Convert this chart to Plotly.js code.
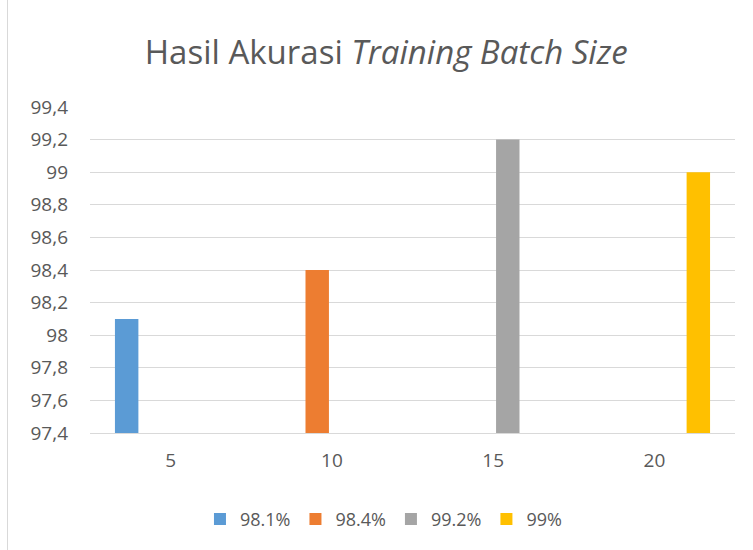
<!DOCTYPE html>
<html>
<head>
<meta charset="utf-8">
<script src="https://cdn.plot.ly/plotly-3.0.1.min.js"></script>
<style>
  html, body { margin: 0; padding: 0; background: #fff; }
  #wrap { position: relative; width: 753px; height: 550px; }
  #chart { width: 753px; height: 550px; }
  #edge { position: absolute; left: 7px; top: 0; width: 1px; height: 550px; background: #d9d9d9; }
</style>
</head>
<body>
<div id="wrap">
  <div id="chart"></div>
  <div id="edge"></div>
</div>
<script>
const categories = ['5', '10', '15', '20'];
const seriesNames = ['98.1%', '98.4%', '99.2%', '99%'];
const seriesValues = [98.1, 98.4, 99.2, 99.0];
const seriesColors = ['#5b9bd5', '#ed7d31', '#a5a5a5', '#ffc000'];

const traces = seriesNames.map((name, i) => ({
  type: 'bar',
  name: name,
  x: categories,
  y: categories.map((c, j) => (j === i ? seriesValues[i] : null)),
  marker: { color: seriesColors[i] },
  hoverinfo: 'x+y+name'
}));

const font = "'Open Sans', 'Liberation Sans', sans-serif";

const layout = {
  width: 753,
  height: 550,
  margin: { l: 90, r: 18, t: 107, b: 117 },
  paper_bgcolor: '#ffffff',
  plot_bgcolor: '#ffffff',
  separators: ',.',
  font: { family: font, color: '#595959', size: 19 },
  title: {
    text: 'Hasil Akurasi <i>Training Batch Size</i>',
    font: { family: font, size: 33, color: '#595959' },
    xref: 'container', x: 0.513, xanchor: 'center',
    yref: 'container', y: 0.905, yanchor: 'middle'
  },
  barmode: 'group',
  bargap: 0.273,
  bargroupgap: 0.2,
  xaxis: {
    type: 'category',
    showgrid: false,
    showline: true,
    linecolor: '#d9d9d9',
    linewidth: 1,
    ticks: '',
    ticklabelstandoff: 10,
    tickfont: { family: font, size: 19, color: '#595959' },
    fixedrange: true
  },
  yaxis: {
    range: [97.4, 99.4],
    dtick: 0.2,
    tick0: 97.4,
    showgrid: true,
    gridcolor: '#d9d9d9',
    gridwidth: 1,
    zeroline: false,
    showline: false,
    ticks: '',
    ticklabelstandoff: 21,
    tickfont: { family: font, size: 19, color: '#595959' },
    fixedrange: true
  },
  legend: {
    orientation: 'h',
    xref: 'paper', x: 0.455, xanchor: 'center',
    yref: 'container', y: 0.056, yanchor: 'middle',
    font: { family: font, size: 18, color: '#595959' },
    itemwidth: 30,
    traceorder: 'normal'
  },
  showlegend: true
};

Plotly.newPlot('chart', traces, layout, { displayModeBar: false, staticPlot: false });
</script>
</body>
</html>
